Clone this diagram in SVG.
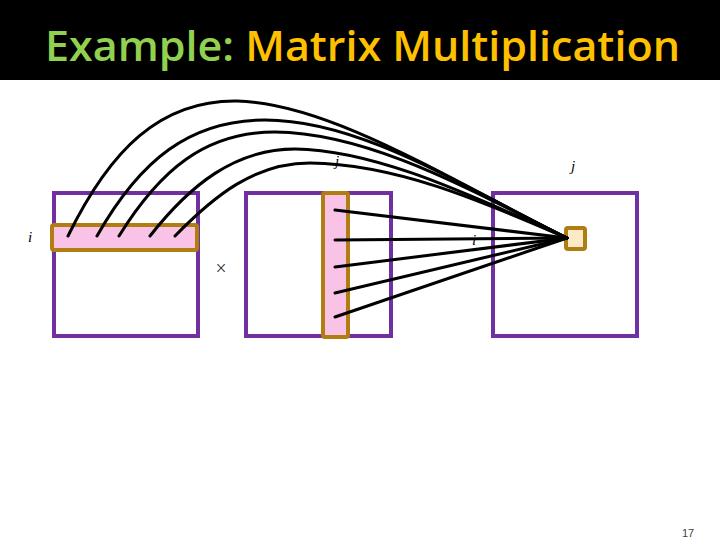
<svg xmlns="http://www.w3.org/2000/svg" width="720" height="540" viewBox="0 0 720 540">
  <style>
    .mat { fill: #ffffff; stroke: #7030A0; stroke-width: 4; }
    .hl { fill: #F9C3E8; stroke: #B07D12; stroke-width: 4; }
    .cell { fill: #FCE9C6; stroke: #B07D12; stroke-width: 4; }
    .wire { fill: none; stroke: #000000; stroke-width: 3; stroke-linecap: round; }
    .lbl { font-family: "Liberation Serif", serif; font-style: italic; font-size: 15px; fill: #000000; }
    .ttl { font-family: "Open Sans", "Liberation Sans", sans-serif; font-weight: 600; font-size: 42px; }
  </style>
  <rect x="0" y="0" width="720" height="540" fill="#ffffff"/>
  <g id="title">
    <rect x="0" y="0" width="720" height="80" fill="#000000"/>
    <text class="ttl" x="45" y="61" textLength="635" lengthAdjust="spacingAndGlyphs"><tspan fill="#92D050">Example:</tspan><tspan fill="#FFC000"> Matrix Multiplication</tspan></text>
  </g>
  <g id="matrixA">
    <rect class="mat" x="54" y="193" width="144" height="143"/>
    <rect class="hl" x="52" y="225" width="145" height="25" rx="2"/>
  </g>
  <g id="matrixB">
    <rect class="mat" x="246" y="193" width="145" height="143"/>
    <rect class="hl" x="323" y="193" width="25" height="144" rx="2"/>
  </g>
  <g id="matrixC">
    <rect class="mat" x="493" y="193" width="144" height="143"/>
    <rect class="cell" x="566" y="228" width="19" height="21" rx="2"/>
  </g>
  <g id="connectors">
    <path class="wire" d="M68,236 C110,150 160,100 237,101 C330,103 450,180 567,238"/>
    <path class="wire" d="M97,236 C140,160 190,120 265,120 C360,120 460,185 567,238"/>
    <path class="wire" d="M119,236 C160,170 205,132 275,132 C370,133 470,190 567,238"/>
    <path class="wire" d="M150,236 C190,185 235,149 295,149 C380,150 480,200 567,238"/>
    <path class="wire" d="M175,236 C215,195 255,163 310,163 C400,164 490,205 567,238"/>
    <path class="wire" d="M335,210 L567,238"/>
    <path class="wire" d="M335,240 L567,238"/>
    <path class="wire" d="M335,267 L567,238"/>
    <path class="wire" d="M335,293 L567,238"/>
    <path class="wire" d="M335,317 L567,238"/>
  </g>
  <g id="labels">
    <text class="lbl" x="28" y="242">i</text>
    <text class="lbl" x="335" y="166">j</text>
    <text class="lbl" x="571" y="171">j</text>
    <text class="lbl" x="472" y="245">i</text>
    <text x="221" y="273" font-family="DejaVu Sans, sans-serif" font-size="15" font-weight="300" text-anchor="middle" fill="#000000">×</text>
    <text x="688" y="537" font-family="Liberation Sans, Arial, sans-serif" font-size="11" text-anchor="middle" fill="#404040">17</text>
  </g>
</svg>
